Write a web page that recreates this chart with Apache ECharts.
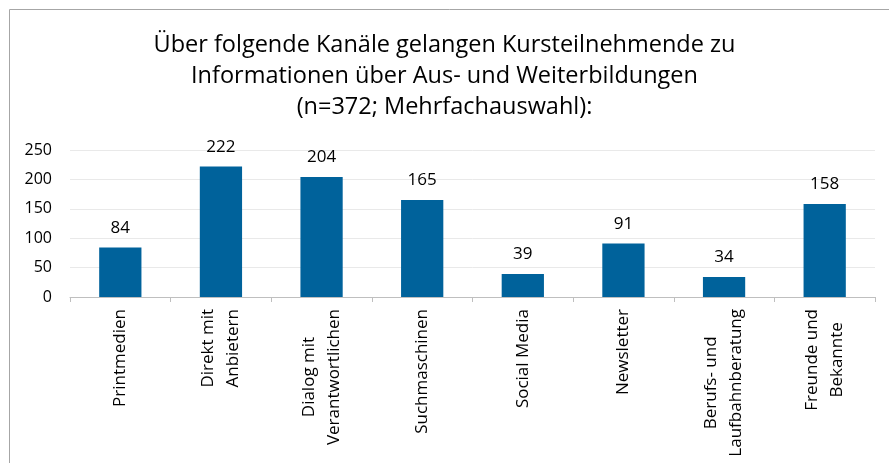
<!DOCTYPE html>
<html>
<head>
<meta charset="utf-8">
<script src="https://cdn.jsdelivr.net/npm/echarts@6/dist/echarts.min.js"></script>
<style>
  html, body { margin: 0; padding: 0; background: #fff; }
  #main { width: 889px; height: 463px; }
</style>
</head>
<body>
<div id="main"></div>
<script>
// Kanäle und Anzahl der Nennungen
var categories = ["Printmedien", "Direkt mit\nAnbietern", "Dialog mit\nVerantwortlichen", "Suchmaschinen",
                  "Social Media", "Newsletter", "Berufs- und\nLaufbahnberatung", "Freunde und\nBekannte"];
var values = [84, 222, 204, 165, 39, 91, 34, 158];
var titleText = "Über folgende Kanäle gelangen Kursteilnehmende zu\nInformationen über Aus- und Weiterbildungen\n(n=372; Mehrfachauswahl):";

var chart = echarts.init(document.getElementById("main"));
var font = "Open Sans";
var option = {
    backgroundColor: "#fff",
    animation: false,
    title: {
        text: titleText,
        left: "center",
        top: 25,
        textStyle: { fontFamily: font, fontSize: 23.5, fontWeight: "normal", color: "#000", lineHeight: 31 }
    },
    grid: { left: 70, right: 14, top: 150, bottom: 166, containLabel: false },
    xAxis: {
        type: "category",
        data: categories,
        axisLine: { lineStyle: { color: "#bfbfbf", width: 1 } },
        axisTick: { show: true, length: 5, lineStyle: { color: "#bfbfbf" } },
        axisLabel: {
            rotate: 90, interval: 0, margin: 12,
            fontFamily: font, fontSize: 17, color: "#000", lineHeight: 25,
            // Zeilen untereinander zentrieren
            formatter: function (v) {
                return v.split("\n").map(function (s) { return "{c|" + s + "}"; }).join("\n");
            },
            rich: { c: { align: "center", fontFamily: font, fontSize: 17, color: "#000", lineHeight: 25 } }
        }
    },
    yAxis: {
        type: "value",
        min: 0, max: 250, interval: 50,
        axisLine: { show: false },
        axisTick: { show: false },
        splitLine: { lineStyle: { color: "#e9e9e9" } },
        axisLabel: { fontFamily: font, fontSize: 16, color: "#000", margin: 18 }
    },
    series: [{
        type: "bar",
        data: values,
        barWidth: "42%",
        itemStyle: { color: "#00629b" },
        label: { show: true, position: "top", distance: 11, fontFamily: font, fontSize: 17, color: "#000" }
    }],
    graphic: [
        { type: "line", shape: { x1: 9.5, y1: 9.5, x2: 889, y2: 9.5 }, style: { stroke: "#a6a6a6", lineWidth: 1 } },
        { type: "line", shape: { x1: 9.5, y1: 9.5, x2: 9.5, y2: 463 }, style: { stroke: "#a6a6a6", lineWidth: 1 } }
    ]
};
chart.setOption(option);
</script>
</body>
</html>
